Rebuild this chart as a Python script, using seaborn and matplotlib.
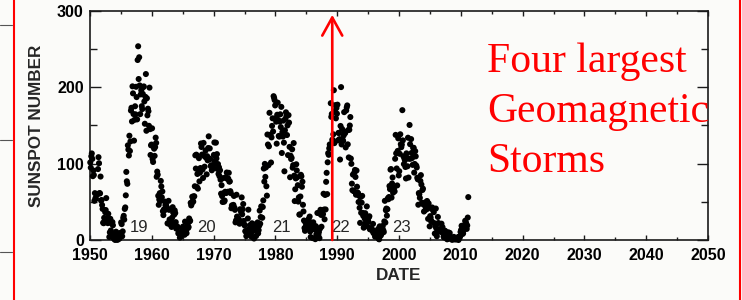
import numpy as np
import pandas as pd
import matplotlib
matplotlib.use("Agg")
import matplotlib.pyplot as plt
from matplotlib.lines import Line2D
from matplotlib.ticker import MultipleLocator
import seaborn as sns

# Numero de manchas solares mensual (enero 1950 - marzo 2011)
ssn_1950s = [
    101.6, 94.8, 109.7, 113.4, 106.2, 83.6, 91.0, 85.2, 51.3, 61.4, 54.8, 54.1,
    59.9, 59.9, 59.9, 92.9, 108.5, 100.6, 61.5, 61.0, 83.1, 51.6, 52.4, 45.8,
    40.7, 22.7, 22.0, 29.1, 23.4, 36.4, 39.3, 54.9, 28.2, 23.8, 22.1, 34.3,
    26.5, 3.9, 10.0, 27.8, 12.5, 21.8, 8.6, 23.5, 19.3, 8.2, 1.6, 2.5,
    0.2, 0.5, 10.9, 1.8, 0.8, 0.2, 4.8, 8.4, 1.5, 7.0, 9.2, 7.6,
    23.1, 20.8, 4.9, 11.3, 28.9, 31.7, 26.7, 40.7, 42.7, 58.5, 89.2, 76.9,
    73.6, 124.0, 118.4, 110.7, 136.6, 116.6, 129.1, 169.6, 173.2, 155.3, 201.3, 192.1,
    165.0, 130.2, 157.4, 175.2, 164.6, 200.7, 187.2, 158.0, 235.8, 253.8, 210.9, 239.4,
    202.5, 164.9, 190.7, 196.0, 175.3, 171.5, 191.4, 200.2, 201.2, 181.5, 152.3, 187.6,
    217.4, 143.1, 185.7, 163.3, 172.0, 168.7, 149.6, 199.6, 145.2, 111.4, 124.0, 125.0,
]
ssn_1960s = [
    146.3, 106.0, 102.2, 122.0, 119.6, 110.2, 121.7, 134.1, 127.2, 82.8, 89.6, 85.6,
    57.9, 46.1, 53.0, 61.4, 51.0, 77.4, 70.2, 55.9, 63.6, 37.7, 32.6, 40.0,
    38.7, 50.3, 45.6, 46.4, 43.7, 42.0, 21.8, 21.8, 51.3, 39.5, 26.9, 23.2,
    19.8, 24.4, 17.1, 29.3, 43.0, 35.9, 19.6, 33.2, 38.8, 35.3, 23.4, 14.9,
    15.3, 17.7, 16.5, 8.6, 9.5, 9.1, 3.1, 9.3, 4.7, 6.1, 7.4, 15.1,
    17.5, 14.2, 11.7, 6.8, 24.1, 15.9, 11.9, 8.9, 16.8, 20.1, 15.8, 17.0,
    28.2, 24.4, 25.3, 48.7, 45.3, 47.7, 56.7, 51.2, 50.2, 57.2, 57.2, 70.4,
    110.9, 93.6, 111.8, 69.5, 86.5, 67.3, 91.5, 107.2, 76.8, 88.2, 94.3, 126.4,
    121.8, 111.9, 92.2, 81.2, 127.2, 110.3, 96.1, 109.3, 117.2, 107.7, 86.0, 109.8,
    104.4, 120.5, 135.8, 106.8, 120.0, 106.0, 96.8, 98.0, 91.3, 95.7, 93.5, 97.9,
]
ssn_1970s = [
    111.5, 127.8, 102.9, 109.5, 127.5, 106.8, 112.5, 93.0, 99.5, 86.6, 95.2, 83.5,
    91.3, 79.0, 60.7, 71.8, 57.5, 49.8, 81.0, 61.4, 50.2, 51.7, 63.2, 82.2,
    61.5, 88.4, 80.1, 63.2, 80.5, 88.0, 76.5, 76.8, 64.0, 61.3, 41.6, 45.3,
    43.4, 42.9, 46.0, 57.7, 42.4, 39.5, 23.1, 25.6, 59.3, 30.7, 23.9, 23.3,
    27.6, 26.0, 21.3, 40.3, 39.5, 36.0, 55.8, 33.6, 40.2, 47.1, 25.0, 20.5,
    18.9, 11.5, 11.5, 5.1, 9.0, 11.4, 28.2, 39.7, 13.9, 9.1, 19.4, 7.8,
    8.1, 4.3, 21.9, 18.8, 12.4, 12.2, 1.9, 16.4, 13.5, 20.6, 5.2, 15.3,
    16.4, 23.1, 8.7, 12.9, 18.6, 38.5, 21.4, 30.1, 44.0, 43.8, 29.1, 43.2,
    51.9, 93.6, 76.5, 99.7, 82.7, 95.1, 70.4, 58.1, 138.2, 125.1, 97.9, 122.7,
    166.6, 137.5, 138.0, 101.5, 134.4, 149.5, 159.4, 142.2, 188.4, 186.2, 183.3, 176.3,
]
ssn_1980s = [
    159.6, 155.0, 126.2, 164.1, 179.9, 157.3, 136.3, 135.4, 155.0, 164.7, 147.9, 174.4,
    114.0, 141.3, 135.5, 156.4, 127.5, 90.0, 143.8, 158.7, 167.3, 162.4, 137.5, 150.1,
    111.2, 163.6, 153.8, 122.0, 82.2, 110.4, 106.1, 107.6, 118.8, 94.7, 98.1, 127.0,
    84.3, 51.0, 66.5, 80.7, 99.2, 91.1, 82.2, 71.8, 50.3, 55.8, 33.3, 33.4,
    57.0, 85.4, 83.5, 69.7, 76.4, 46.1, 37.4, 25.5, 15.7, 12.0, 22.8, 18.7,
    16.5, 15.9, 17.2, 16.2, 27.5, 24.2, 30.7, 11.1, 3.9, 18.6, 16.2, 17.3,
    2.5, 23.2, 15.1, 18.5, 13.7, 1.1, 18.1, 7.4, 3.8, 35.4, 15.2, 6.8,
    10.4, 2.4, 14.7, 39.6, 33.0, 17.4, 33.0, 38.7, 33.9, 60.6, 39.9, 27.1,
    59.0, 40.0, 76.2, 88.0, 60.1, 101.8, 113.8, 111.6, 120.1, 125.1, 125.1, 179.2,
    161.3, 165.1, 131.4, 130.6, 138.5, 196.2, 126.9, 168.9, 176.7, 159.4, 173.0, 165.5,
]
ssn_1990s = [
    177.3, 130.5, 140.3, 140.3, 132.2, 105.4, 149.4, 200.3, 125.2, 145.5, 131.4, 129.7,
    136.9, 167.5, 141.9, 140.0, 121.3, 169.7, 173.7, 176.3, 125.3, 144.1, 108.2, 144.4,
    150.0, 161.1, 106.7, 99.8, 73.8, 65.2, 85.7, 64.5, 63.9, 88.7, 91.8, 82.6,
    59.3, 91.0, 69.8, 62.2, 61.3, 49.8, 57.9, 42.2, 22.4, 56.4, 35.6, 48.9,
    57.8, 35.5, 31.7, 16.1, 17.8, 28.0, 35.1, 22.5, 25.7, 44.0, 18.0, 26.2,
    24.2, 29.9, 31.1, 14.0, 14.5, 15.6, 14.5, 14.3, 11.8, 21.1, 9.0, 10.0,
    11.5, 4.4, 9.2, 4.8, 5.5, 11.8, 8.2, 14.4, 1.6, 0.9, 17.9, 13.3,
    5.7, 7.6, 8.7, 15.5, 18.5, 12.7, 10.4, 24.4, 51.3, 22.8, 39.0, 41.2,
    31.9, 40.3, 54.8, 53.4, 56.3, 70.7, 66.6, 92.2, 92.9, 55.5, 74.0, 81.9,
    62.0, 66.3, 68.8, 63.7, 106.4, 137.7, 113.5, 93.7, 71.5, 116.7, 133.2, 84.6,
]
ssn_2000s = [
    90.1, 112.9, 138.5, 125.5, 121.6, 124.9, 170.1, 130.5, 109.7, 99.4, 106.8, 104.4,
    95.6, 80.6, 113.5, 107.7, 96.6, 134.0, 81.8, 106.4, 150.7, 125.5, 106.5, 132.2,
    114.1, 107.4, 98.4, 120.7, 120.8, 88.3, 99.6, 116.4, 109.6, 97.5, 95.0, 81.6,
    79.5, 46.2, 61.5, 60.0, 55.2, 77.4, 85.0, 72.7, 48.8, 65.5, 67.3, 46.5,
    37.3, 45.8, 49.1, 39.3, 41.5, 43.2, 51.1, 40.9, 27.7, 48.0, 43.5, 17.9,
    31.3, 29.2, 24.5, 24.4, 42.6, 39.6, 39.9, 36.4, 22.1, 8.5, 18.0, 41.2,
    15.3, 4.9, 10.6, 30.2, 22.3, 13.9, 12.2, 12.9, 14.4, 10.5, 21.4, 13.6,
    16.8, 10.7, 4.5, 3.4, 11.7, 12.1, 9.7, 6.0, 2.4, 0.9, 1.7, 10.1,
    3.3, 2.1, 9.3, 2.9, 3.2, 3.4, 0.5, 0.5, 1.1, 2.9, 4.1, 0.8,
    1.5, 1.4, 0.7, 1.2, 2.9, 2.6, 3.5, 0.0, 4.2, 4.6, 4.2, 10.6,
]
ssn_2010s = [
    13.1, 18.6, 15.4, 7.9, 8.8, 13.5, 16.1, 19.6, 25.2, 23.5, 21.6, 14.5,
    19.0, 29.4, 56.2,
]

# Ciclos solares y tormenta de marzo 1989
ciclos = ['19', '20', '21', '22', '23']
ciclos_x = [1957.9, 1968.9, 1980.9, 1990.6, 2000.4]
tormenta_x = 1989.2

ssn = ssn_1950s + ssn_1960s + ssn_1970s + ssn_1980s + ssn_1990s + ssn_2000s + ssn_2010s
df = pd.DataFrame({'fecha': 1950 + (np.arange(len(ssn)) + 0.5) / 12, 'ssn': ssn})

sns.set_style('ticks')
plt.rcParams['font.family'] = ['Liberation Sans', 'DejaVu Sans']

fondo = '#fbfbf9'
fig = plt.figure(figsize=(7.42, 3.0), dpi=100, facecolor=fondo)
ax = fig.add_axes([90 / 742, 60 / 300, 618 / 742, 229 / 300])
ax.set_facecolor(fondo)

sns.scatterplot(data=df, x='fecha', y='ssn', color='black', s=19,
                edgecolor='none', linewidth=0, ax=ax, zorder=3, clip_on=False)

ax.set_xlim(1950, 2050)
ax.set_ylim(0, 300)
ax.xaxis.set_major_locator(MultipleLocator(10))
ax.xaxis.set_minor_locator(MultipleLocator(5))
ax.yaxis.set_major_locator(MultipleLocator(100))
ax.yaxis.set_minor_locator(MultipleLocator(50))
ax.tick_params(axis='both', which='both', direction='in', top=True, right=True,
               colors='#1a1a1a', labelcolor='black', labelsize=11.5, width=1.0)
ax.tick_params(axis='x', which='major', length=3.6, pad=6)
ax.tick_params(axis='x', which='minor', length=2.2)
ax.tick_params(axis='y', which='major', length=8, pad=4.5)
ax.tick_params(axis='y', which='minor', length=5)
for lab in ax.get_xticklabels() + ax.get_yticklabels():
    lab.set_fontweight('bold')
for s in ax.spines.values():
    s.set_visible(True)
    s.set_linewidth(1.2)
    s.set_color('#1a1a1a')

ax.set_xlabel('DATE', fontsize=12.3, fontweight='bold', labelpad=3)
ax.set_ylabel('SUNSPOT NUMBER', fontsize=12.3, fontweight='bold', labelpad=9)

for lab, xc in zip(ciclos, ciclos_x):
    ax.text(xc, 17, lab, fontsize=12, ha='center', va='center', zorder=4)

# Flecha roja de la tormenta de 1989
ax.annotate('', xy=(tormenta_x, 295), xytext=(tormenta_x, 0),
            arrowprops=dict(arrowstyle='->, head_length=0.65, head_width=0.36',
                            color='red', lw=1.9, mutation_scale=20,
                            shrinkA=0, shrinkB=0),
            zorder=5, annotation_clip=False)

ax.text(2014.2, 259, 'Four largest\nGeomagnetic\nStorms', color='red',
        fontsize=30, family=['Liberation Serif', 'DejaVu Serif'],
        ha='left', va='top', linespacing=1.4, zorder=6, clip_on=False)

# Marco de la diapositiva
fig.add_artist(Line2D([13.5 / 742, 13.5 / 742], [0, 1], color='red', lw=1.5))
fig.add_artist(Line2D([739.5 / 742, 739.5 / 742], [0, 1], color='red', lw=1.5))
for yy in [25, 140, 252]:
    fig.add_artist(Line2D([0, 12 / 742], [1 - yy / 300, 1 - yy / 300],
                          color='#555555', lw=0.8))

fig.savefig('out.png', dpi=100, facecolor=fondo)
